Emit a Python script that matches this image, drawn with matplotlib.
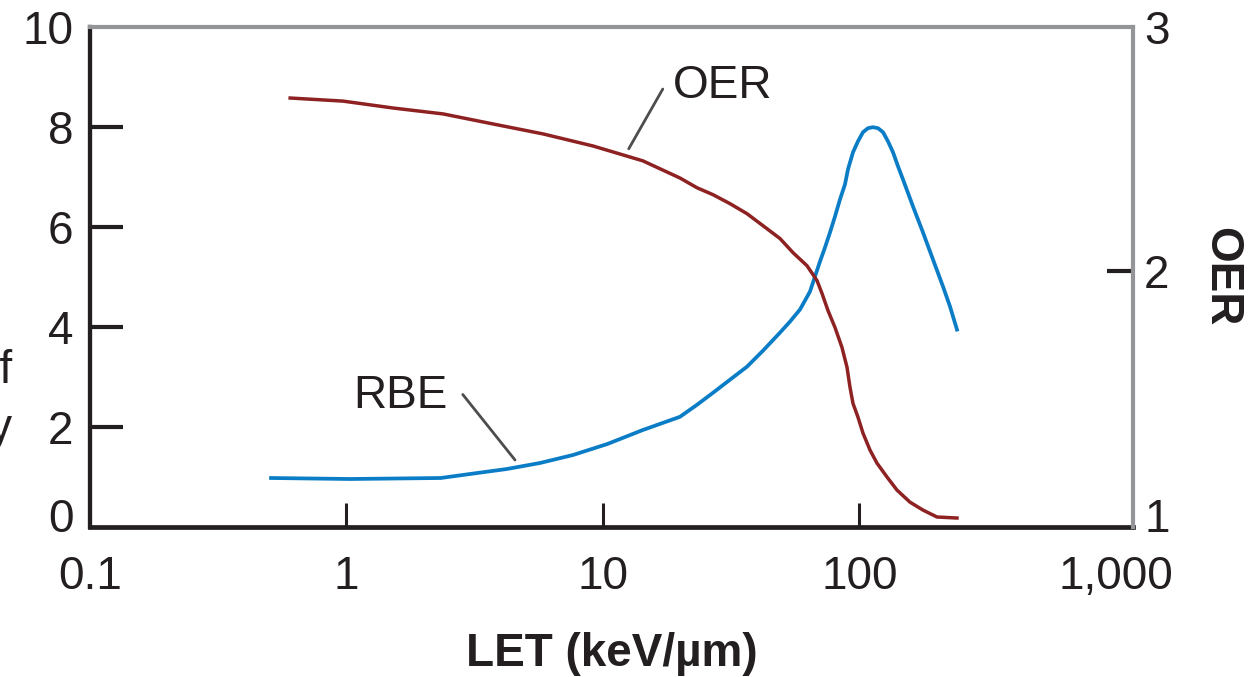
import matplotlib
matplotlib.use("Agg")
import matplotlib.pyplot as plt
from matplotlib.transforms import ScaledTranslation

plt.rcParams['font.family'] = ['Liberation Sans Narrow', 'Liberation Sans', 'DejaVu Sans']

# ---- data ----
rbe_let = [0.508, 1.03, 2.33, 3.03, 4.22, 5.68, 7.64, 10.4, 14.3, 19.96, 23.26, 26.85,
           31.27, 36.42, 42.06, 48.99, 53.58, 58.61, 64.12, 67.06, 70.15, 73.37, 76.74,
           80.27, 83.95, 87.80, 90.20, 94.34, 98.67, 103.2, 107.9, 112.9, 118.1, 123.5,
           129.1, 135.1, 141.3, 147.7, 161.6, 176.8, 193.4, 211.6, 225.4, 239.9]
rbe_val = [0.98, 0.96, 0.98, 1.06, 1.16, 1.28, 1.44, 1.66, 1.94, 2.204, 2.445, 2.685,
           2.946, 3.206, 3.527, 3.888, 4.108, 4.349, 4.709, 5.010, 5.311, 5.591, 5.892,
           6.212, 6.553, 6.854, 7.154, 7.495, 7.715, 7.896, 7.976, 7.996, 7.976, 7.896,
           7.715, 7.495, 7.214, 6.954, 6.413, 5.892, 5.351, 4.810, 4.409, 3.948]

oer_let = [0.603, 0.969, 1.52, 2.38, 3.72, 5.84, 9.14, 14.3, 19.96, 23.26, 26.85, 31.27,
           36.42, 42.06, 48.99, 55.05, 62.42, 68.30, 71.42, 75.38, 80.27, 85.47, 89.40,
           91.83, 94.34, 98.67, 103.2, 109.9, 117.0, 128.0, 140.0, 157.3, 176.8, 200.5,
           239.9]
oer_val = [2.673, 2.661, 2.634, 2.611, 2.572, 2.533, 2.486, 2.428, 2.361, 2.323, 2.296,
           2.261, 2.222, 2.175, 2.125, 2.070, 2.019, 1.961, 1.911, 1.844, 1.778, 1.700,
           1.623, 1.545, 1.482, 1.428, 1.366, 1.300, 1.249, 1.195, 1.144, 1.097, 1.066,
           1.039, 1.035]

x_ticks = [0.1, 1, 10, 100, 1000]
x_tick_labels = ['0.1', '1', '10', '100', '1,000']
left_ticks = [0, 2, 4, 6, 8, 10]
right_ticks = [1, 2, 2.95]
right_tick_labels = ['1', '2', '3']

BLUE = '#0A7DC6'
RED = '#8E2222'
BLACK = '#231F20'
GRAY = '#939598'
LEADER = '#4D4D4F'
FS = 33

fig = plt.figure(figsize=(12.55, 6.77), dpi=100)
ax = fig.add_axes([90/1255, 1-527/677, (1133-90)/1255, 500/677])
ax2 = ax.twinx()

ax.plot(rbe_let, rbe_val, color=BLUE, lw=2.7, solid_joinstyle='round', zorder=3)
ax2.plot(oer_let, oer_val, color=RED, lw=2.5, solid_joinstyle='round', zorder=3)

ax.set_xscale('log')
ax.set_xlim(0.1, 1165)
ax.set_ylim(0, 10)
ax2.set_ylim(1, 2.95)

ax.set_xticks(x_ticks)
ax.set_xticklabels(x_tick_labels)
ax.xaxis.set_minor_locator(matplotlib.ticker.NullLocator())
ax.set_yticks(left_ticks)
ax2.set_yticks(right_ticks)
ax2.set_yticklabels(right_tick_labels)

for a in (ax, ax2):
    for s in a.spines.values():
        s.set_visible(False)
ax.spines['left'].set_visible(True)
ax.spines['left'].set_color(BLACK)
ax.spines['left'].set_linewidth(3.1)
ax.spines['bottom'].set_visible(True)
ax.spines['bottom'].set_color(BLACK)
ax.spines['bottom'].set_linewidth(3.4)
ax2.spines['right'].set_visible(True)
ax2.spines['right'].set_color(GRAY)
ax2.spines['right'].set_linewidth(3.0)
ax2.spines['top'].set_visible(True)
ax2.spines['top'].set_color(GRAY)
ax2.spines['top'].set_linewidth(3.0)

ax.tick_params(axis='y', direction='in', length=24, width=3.0, color=BLACK,
               labelsize=FS, pad=12, labelcolor=BLACK)
ax.tick_params(axis='x', direction='in', length=17, width=2.2, color=BLACK,
               labelsize=FS, pad=20, labelcolor=BLACK)
ax2.tick_params(axis='y', direction='in', length=19, width=3.0, color=BLACK,
                labelsize=FS, pad=8, labelcolor=BLACK)

for i, t in enumerate(ax.yaxis.get_major_ticks()):
    if left_ticks[i] in (0, 10):
        t.tick1line.set_visible(False)
for i, t in enumerate(ax.xaxis.get_major_ticks()):
    if x_ticks[i] in (0.1, 1000):
        t.tick1line.set_visible(False)
for i, t in enumerate(ax2.yaxis.get_major_ticks()):
    if right_tick_labels[i] in ('1', '3'):
        t.tick2line.set_visible(False)

up = ScaledTranslation(0, 12/100, fig.dpi_scale_trans)
ax.get_yticklabels()[0].set_transform(ax.get_yticklabels()[0].get_transform() + up)
ax2.get_yticklabels()[0].set_transform(ax2.get_yticklabels()[0].get_transform() + up)

ax.set_xlabel('LET (keV/\u00b5m)', fontsize=FS, fontweight='bold', labelpad=24, color=BLACK)
ax2.set_ylabel('OER', fontsize=FS, fontweight='bold', rotation=-90, labelpad=53, color=BLACK)

# curve labels with leader lines
ax2.text(18.75, 2.72, 'OER', fontsize=FS, color=BLACK, ha='left', va='center', zorder=4)
ax2.annotate('', xy=(12.6, 2.475), xytext=(17.1, 2.708),
             arrowprops=dict(arrowstyle='-', color=LEADER, lw=2.0, shrinkA=0, shrinkB=0),
             zorder=4)
ax.text(1.617, 2.63, 'RBE', fontsize=FS, color=BLACK, ha='center', va='center', zorder=4)
ax.annotate('', xy=(4.54, 1.34), xytext=(2.84, 2.65),
            arrowprops=dict(arrowstyle='-', color=LEADER, lw=2.0, shrinkA=0, shrinkB=0),
            zorder=4)

# partially cropped left label (as in reference)
fig.text(12/1255, 1-400/677, 'Measure of\nbiological efficacy', fontsize=FS, ha='right',
         va='center', linespacing=1.4, color=BLACK)

fig.savefig('out.png', dpi=100)
